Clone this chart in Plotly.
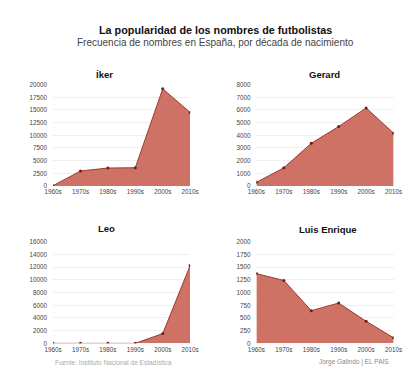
import plotly.graph_objects as go

decades = ["1960s", "1970s", "1980s", "1990s", "2000s", "2010s"]
iker = [50, 2960, 3540, 3600, 19170, 14520]
gerard = [290, 1430, 3370, 4690, 6160, 4170]
leo = [0, 0, 0, 0, 1550, 12270]
luis_enrique = [1375, 1240, 645, 795, 435, 110]

panel_names = ["Íker", "Gerard", "Leo", "Luis Enrique"]
panel_values = [iker, gerard, leo, luis_enrique]
panel_ranges = [[0, 20000], [0, 8000], [0, 16000], [0, 2000]]
panel_dticks = [2500, 1000, 2000, 250]

W, H = 414, 373
# pixel boxes (x0, x1, ytop, ybottom)
boxes = [(37.7, 181, 74, 177.3), (250.3, 393.7, 74, 177.3),
         (37.7, 181, 234.3, 337.7), (250.3, 393.7, 234.3, 337.7)]
title_pos = [(91, 64), (321, 64), (94, 221), (325.5, 221.5)]

FILL = "#cd7264"
LINE = "#9e3a30"
MARK = "#6e1d18"
FONT = "Liberation Sans, Arial, sans-serif"

fig = go.Figure()
layout = dict(width=W, height=H, margin=dict(l=0, r=0, t=0, b=0),
              paper_bgcolor="white", plot_bgcolor="white", showlegend=False,
              font=dict(family=FONT, color="#444"))
annotations = []
for i, (name, vals) in enumerate(zip(panel_names, panel_values)):
    xa = "x" if i == 0 else f"x{i+1}"
    ya = "y" if i == 0 else f"y{i+1}"
    fig.add_trace(go.Scatter(x=list(range(len(decades))), y=vals, xaxis=xa, yaxis=ya,
                             mode="lines+markers", fill="tozeroy", fillcolor=FILL,
                             line=dict(color=LINE, width=1),
                             marker=dict(color=MARK, size=3),
                             hoverinfo="skip"))
    x0, x1, yt, yb = boxes[i]
    kx = "xaxis" if i == 0 else f"xaxis{i+1}"
    ky = "yaxis" if i == 0 else f"yaxis{i+1}"
    layout[kx] = dict(domain=[x0 / W, x1 / W], range=[0, 5], anchor=ya,
                      tickvals=list(range(len(decades))), ticktext=decades,
                      showgrid=False, zeroline=False, showline=False,
                      ticks="", ticklabelstandoff=1,
                      tickfont=dict(size=6.3, color="#444", family=FONT))
    layout[ky] = dict(domain=[1 - yb / H, 1 - yt / H], range=panel_ranges[i], anchor=xa,
                      dtick=panel_dticks[i], tick0=0, tickformat="d",
                      showgrid=True, gridcolor="#efefef", gridwidth=1,
                      zeroline=False, showline=False, ticks="", ticklabelstandoff=5,
                      tickfont=dict(size=6.3, color="#444", family=FONT))
    tx, ty = title_pos[i]
    annotations.append(dict(text=f"<b>{name}</b>", x=tx / W, y=1 - ty / H,
                            xref="paper", yref="paper", showarrow=False,
                            xanchor="center", yanchor="middle",
                            font=dict(size=9.5, color="#111", family=FONT)))

annotations += [
    dict(text="<b>La popularidad de los nombres de futbolistas</b>", x=0.5, y=1 - 18 / H,
         xref="paper", yref="paper", showarrow=False, xanchor="center", yanchor="middle",
         font=dict(size=10.8, color="#111", family=FONT)),
    dict(text="Frecuencia de nombres en España, por década de nacimiento", x=0.5, y=1 - 31 / H,
         xref="paper", yref="paper", showarrow=False, xanchor="center", yanchor="middle",
         font=dict(size=10, color="#444", family=FONT)),
    dict(text="Fuente: Instituto Nacional de Estadística", x=37.5 / W, y=1 - 357 / H,
         xref="paper", yref="paper", showarrow=False, xanchor="left", yanchor="middle",
         font=dict(size=6.5, color="#aaa", family=FONT)),
    dict(text="Jorge Galindo | EL PAIS", x=391 / W, y=1 - 357 / H,
         xref="paper", yref="paper", showarrow=False, xanchor="right", yanchor="middle",
         font=dict(size=6.5, color="#888", family=FONT)),
]
layout["annotations"] = annotations
fig.update_layout(**layout)
fig.write_html("out.html")
